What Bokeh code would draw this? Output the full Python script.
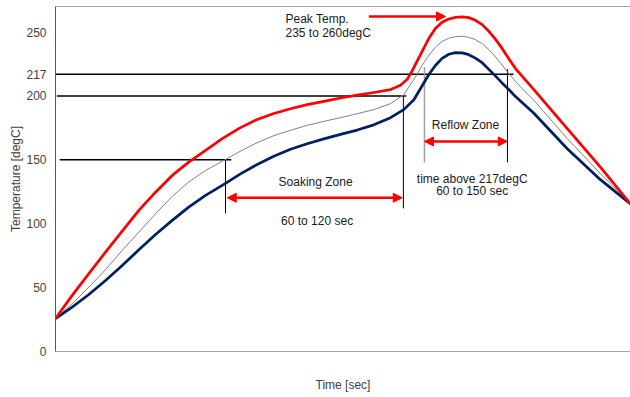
from bokeh.plotting import figure
from bokeh.models import Range1d, FixedTicker, Arrow, NormalHead, LinearAxis
from bokeh.core.properties import value
from bokeh.embed import file_html
from bokeh.resources import INLINE

# ---- data (time in sec, temperature in degC) ----
red_t = [0, 8.7, 17.4, 26.1, 34.8, 43.5, 52.2, 60.9, 69.5, 78.3, 87.0, 96.5, 105.2, 113.9, 122.6,
         131.3, 140.0, 148.7, 157.4, 166.1, 174.8, 180.0, 183.5, 185.7, 187.8, 191.3, 194.8, 198.3,
         201.7, 205.2, 208.7, 212.2, 215.6, 219.1, 222.6, 226.1, 229.6, 233.1, 236.5, 240.0, 249.6,
         267.0, 284.3, 300]
red_v = [25.8, 43.9, 60.9, 77.8, 94.2, 110.4, 124.7, 137.8, 148.2, 157.4, 166.6, 175.2, 181.6, 186.3,
         190.0, 193.2, 195.8, 198.4, 200.6, 202.7, 205.0, 208.3, 213.0, 218.5, 224.7, 234.9, 245.1,
         252.9, 257.6, 260.2, 261.5, 261.8, 261.3, 259.2, 255.8, 250.6, 244.3, 237.0, 229.2, 221.4,
         205.0, 174.4, 144.3, 115.5]

gray_t = [0, 8.7, 17.4, 26.1, 34.8, 43.5, 52.2, 60.9, 69.5, 78.3, 89.6, 96.5, 105.2, 113.9, 122.6,
          131.3, 140.0, 148.7, 157.4, 166.1, 174.8, 181.7, 184.3, 187.8, 191.3, 194.8, 198.3, 201.7,
          205.2, 208.7, 212.2, 215.6, 219.1, 222.6, 226.1, 229.6, 233.1, 236.5, 240.0, 243.5, 249.6,
          267.0, 284.3, 300]
gray_v = [25.8, 37.4, 50.4, 64.0, 79.1, 93.4, 107.8, 121.4, 132.6, 141.7, 151.0, 156.8, 163.4, 168.9,
          173.1, 177.0, 180.1, 183.0, 186.1, 189.3, 194.0, 201.0, 206.9, 214.8, 224.0, 231.8, 238.3,
          242.6, 245.2, 246.4, 246.7, 245.9, 244.1, 240.9, 236.3, 230.5, 224.0, 217.5, 211.4, 205.7,
          196.6, 166.6, 139.2, 115.5]

navy_t = [0, 8.7, 17.4, 26.1, 34.8, 43.5, 52.2, 60.9, 69.5, 78.3, 88.7, 96.5, 105.2, 113.9, 122.6,
          131.3, 140.0, 148.7, 157.4, 166.1, 174.8, 181.7, 187.0, 191.3, 194.8, 198.3, 201.7, 205.2,
          208.7, 212.2, 215.6, 219.1, 222.6, 226.1, 229.6, 233.1, 236.5, 240.0, 249.6, 267.0, 284.3, 300]
navy_v = [25.8, 34.7, 44.6, 55.6, 67.3, 79.6, 91.6, 102.6, 113.0, 122.2, 131.6, 139.0, 146.4, 152.8,
          158.3, 162.6, 166.4, 169.9, 173.3, 177.4, 183.0, 189.3, 197.0, 208.0, 216.8, 224.0, 229.4,
          232.6, 233.9, 233.7, 232.3, 229.6, 226.0, 220.8, 215.5, 210.0, 205.0, 199.5, 186.5, 158.7,
          134.5, 115.5]

y_ticks = [0, 50, 100, 150, 200, 217, 250]

# threshold lines: level, start time, end time
h_levels = [150, 200, 217]
h_start = [2.2, 0.7, 0.0]
h_end = [91.7, 183.0, 239.0]

# vertical marker lines: time, bottom, top
v_time = [88.7, 181.5, 235.8]
v_bottom = [108, 112, 148]
v_top = [150, 200, 221]
v_gray_time = [192.5]
v_gray_bottom = [148]
v_gray_top = [222.6]

# arrows: start time, end time, level
soak_arrow = (89.6, 180.9, 120.3)
reflow_arrow = (192.5, 235.7, 164.4)
peak_arrow = (163.5, 203.5, 262.2)

FONT = "Liberation Sans"
Y_MAX = 270

p = figure(width=630, height=397, output_backend="svg", toolbar_location=None,
           x_range=Range1d(0, 300), y_range=Range1d(0, Y_MAX),
           min_border_left=55, min_border_right=0, min_border_top=6, min_border_bottom=46)
p.outline_line_color = None
p.grid.visible = False
p.background_fill_color = "white"
p.border_fill_color = "white"

# y axis
p.yaxis.ticker = FixedTicker(ticks=y_ticks)
p.yaxis.major_tick_out = 0
p.yaxis.major_tick_in = 0
p.yaxis.minor_tick_out = 0
p.yaxis.minor_tick_in = 0
p.yaxis.major_label_standoff = 9
p.yaxis.major_label_text_font = FONT
p.yaxis.major_label_text_font_size = "12px"
p.yaxis.major_label_text_color = "#404040"
p.yaxis.axis_label = "Temperature [degC]"
p.yaxis.axis_label_text_font = FONT
p.yaxis.axis_label_text_font_size = "12px"
p.yaxis.axis_label_text_font_style = "normal"
p.yaxis.axis_label_text_color = "#404040"
p.yaxis.axis_label_standoff = 0
p.yaxis.axis_line_color = "#595959"

# x axis
p.xaxis.ticker = FixedTicker(ticks=[])
p.xaxis.major_tick_out = 0
p.xaxis.major_tick_in = 0
p.xaxis.minor_tick_out = 0
p.xaxis.minor_tick_in = 0
p.xaxis.major_label_standoff = 0
p.xaxis.major_label_text_font_size = "0px"
p.xaxis.axis_label = "Time [sec]"
p.xaxis.axis_label_text_font = FONT
p.xaxis.axis_label_text_font_size = "12px"
p.xaxis.axis_label_text_font_style = "normal"
p.xaxis.axis_label_text_color = "#404040"
p.xaxis.axis_label_standoff = 26
p.xaxis.axis_line_color = "#a6a6a6"

# top frame line (tickless axis)
top = LinearAxis(ticker=FixedTicker(ticks=[]), major_tick_out=0, major_tick_in=0,
                 minor_tick_out=0, minor_tick_in=0, major_label_standoff=0,
                 major_label_text_font_size="0px", axis_line_color="#a6a6a6")
p.add_layout(top, "above")

# threshold lines
p.segment(x0=h_start, y0=h_levels, x1=h_end, y1=h_levels, line_color="black", line_width=1.5)
p.segment(x0=v_time, y0=v_bottom, x1=v_time, y1=v_top, line_color="black", line_width=1)
p.segment(x0=v_gray_time, y0=v_gray_bottom, x1=v_gray_time, y1=v_gray_top,
          line_color="#a0a0a0", line_width=1.5)

# curves
p.line(gray_t, gray_v, line_color="#808080", line_width=1, line_join="round")
p.line(navy_t, navy_v, line_color="#002060", line_width=2.75, line_join="round")
p.line(red_t, red_v, line_color="#ff0000", line_width=2.75, line_join="round")

# arrows
def head():
    return NormalHead(size=9, fill_color="#ff0000", line_color="#ff0000", line_width=1)

for (a, b, lvl) in (soak_arrow, reflow_arrow):
    p.add_layout(Arrow(start=head(), end=head(), x_start=a, y_start=lvl, x_end=b, y_end=lvl,
                       line_color="#ff0000", line_width=2.5))
p.add_layout(Arrow(end=head(), x_start=peak_arrow[0], y_start=peak_arrow[2],
                   x_end=peak_arrow[1], y_end=peak_arrow[2], line_color="#ff0000", line_width=2.5))

# annotations
def label(x, y, t, align):
    p.text(x=[x], y=[y], text=[t], text_font=value(FONT), text_font_size="12px",
           text_color="#1a1a1a", text_align=align, text_baseline="middle")

label(120.0, 260.4, "Peak Temp.", "left")
label(120.0, 249.5, "235 to 260degC", "left")
label(135.7, 132.5, "Soaking Zone", "center")
label(136.5, 102.5, "60 to 120 sec", "center")
label(213.9, 176.9, "Reflow Zone", "center")
label(217.4, 135.2, "time above 217degC", "center")
label(217.4, 125.5, "60 to 150 sec", "center")

open("out.html", "w").write(file_html(p, INLINE))
